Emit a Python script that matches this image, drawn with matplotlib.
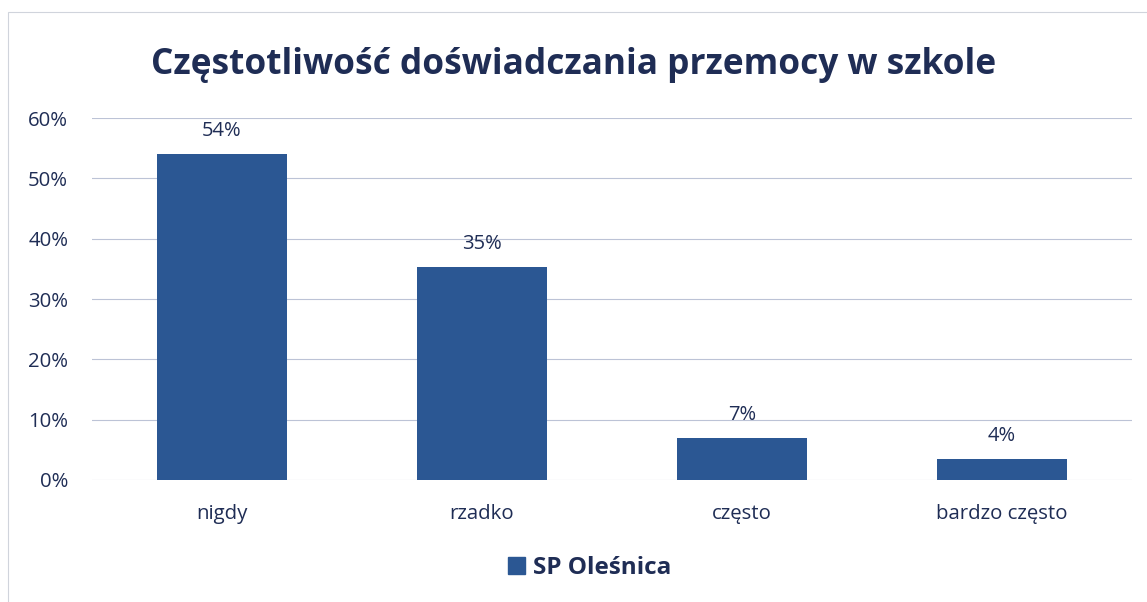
import matplotlib
matplotlib.use("Agg")
import matplotlib.pyplot as plt
from matplotlib.patches import Rectangle, Patch
from matplotlib.ticker import FuncFormatter

categories = ["nigdy", "rzadko", "często", "bardzo często"]
values = [54, 35.3, 7, 3.5]
value_labels = ["54%", "35%", "7%", "4%"]
series_name = "SP Oleśnica"
title = "Częstotliwość doświadczania przemocy w szkole"

bar_color = "#2b5793"
text_color = "#1f2d55"

plt.rcParams['font.family'] = ['Open Sans', 'DejaVu Sans']

fig = plt.figure(figsize=(11.47, 6.02), dpi=100)
ax = fig.add_axes([0.080, 0.2027, 0.907, 0.601])

x = range(len(categories))
ax.bar(x, values, width=0.5, color=bar_color, zorder=3)
for xi, v, lab in zip(x, values, value_labels):
    ax.text(xi, v + 3.0, lab, ha='center', va='baseline', fontsize=14.5, color=text_color)

ax.set_xlim(-0.5, len(categories) - 0.5)
ax.set_ylim(0, 60)
ax.set_yticks(range(0, 61, 10))
ax.yaxis.set_major_formatter(FuncFormatter(lambda v, p: f"{v:.0f}%"))
ax.set_xticks(list(x))
ax.set_xticklabels(categories)
ax.tick_params(axis='both', length=0, labelsize=14.7, labelcolor=text_color)
ax.tick_params(axis='y', pad=17)
ax.tick_params(axis='x', pad=17)
ax.grid(axis='y', color='#bcc3d6', linewidth=0.8, zorder=0)
for s in ax.spines.values():
    s.set_visible(False)

fig.text(0.5, 0.892, title, ha='center', va='center', fontsize=25.4,
         fontweight='bold', color=text_color)

fig.legend([Patch(color=bar_color)], [series_name], loc='center',
           bbox_to_anchor=(0.514, 0.056), frameon=False, handlelength=0.7,
           handleheight=0.7, handletextpad=0.3,
           prop={'weight': 'bold', 'size': 17.5}, labelcolor=text_color)

fig.patches.append(Rectangle((0.007, -0.01), 1.0, 0.99, transform=fig.transFigure,
                             fill=False, edgecolor='#d0d4dc', linewidth=0.8))

fig.savefig("out.png", dpi=100)
